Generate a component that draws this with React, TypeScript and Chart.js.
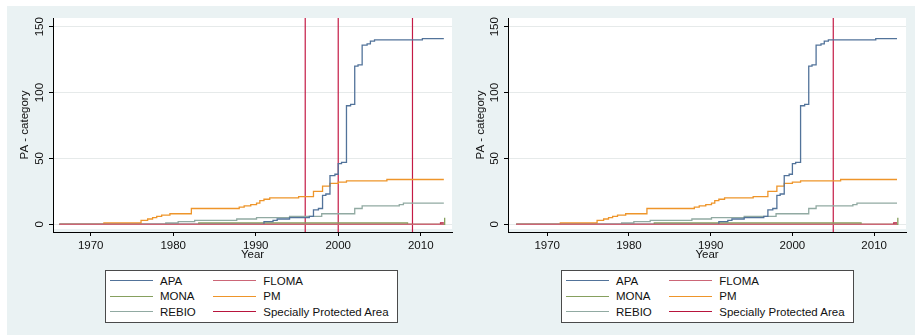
import React, { useEffect, useRef } from "react";
import { Chart, registerables } from "chart.js";

Chart.register(...registerables);

// ---------------- data ----------------
const seriesNames = ["APA", "FLOMA", "MONA", "PM", "REBIO", "Specially Protected Area"];

const apaYears = [1966.2, 1991.0, 1992.1, 1992.6, 1994.1, 1996.5, 1997.0, 1997.6, 1998.1, 1998.5, 1999.0, 1999.6, 2000.0, 2000.4, 2001.0, 2001.5, 2002.0, 2002.4, 2002.9, 2003.5, 2003.9, 2004.4, 2010.2, 2012.8];
const apaValues = [0, 2, 3, 4, 5, 6, 11, 12, 22, 23, 37, 38, 46, 47, 90, 91, 120, 121, 136, 137, 139, 140, 141, 141];

const flomaYears = [1966.2, 2012.8];
const flomaValues = [0, 0];

const monaYears = [1966.2, 1983.1, 2008.4, 2012.9];
const monaValues = [0, 1, 0, 5];

const pmYears = [1966.2, 1971.6, 1976.1, 1976.9, 1977.5, 1978.0, 1978.6, 1979.6, 1982.2, 1988.0, 1988.6, 1989.4, 1990.1, 1990.5, 1991.0, 1991.7, 1995.2, 1997.0, 1998.1, 1999.0, 2000.0, 2001.0, 2005.9, 2012.8];
const pmValues = [0, 1, 3, 4, 5, 6, 7, 8, 12, 13, 14, 15, 16, 18, 19, 20, 21, 25, 29, 31, 32, 33, 34, 34];

const rebioYears = [1966.2, 1979.1, 1980.6, 1982.6, 1987.7, 1990.1, 1994.1, 1998.0, 2002.0, 2002.9, 2007.4, 2007.9, 2012.8];
const rebioValues = [0, 1, 2, 3, 4, 5, 6, 8, 12, 14, 15, 16, 16];

const spaYears = [1966.2, 2012.4, 2012.8];
const spaValues = [0, 1, 1];

const leftXLines = [1996, 2000, 2009];
const rightXLines = [2005];

const xTickValues = [1970, 1980, 1990, 2000, 2010];
const yTickValues = [0, 50, 100, 150];

const yAxisMin = -5.85;
const yAxisMax = 156.6;

// ---------------- styles ----------------
const seriesColors = ["#52739a", "#cc6677", "#86a05e", "#ee952a", "#91aaa2", "#b8143c"];
const seriesOrder = [1, 0, 3, 2, 4, 6]; // lower order = drawn on top
const xLineColor = "#c41a45";
const FONT = "'Liberation Sans', Arial, sans-serif";
const TEXT = "#111";
const BG = "#eaf2f3";

const seriesYears = [apaYears, flomaYears, monaYears, pmYears, rebioYears, spaYears];
const seriesValues = [apaValues, flomaValues, monaValues, pmValues, rebioValues, spaValues];

const plotBg = {
  id: "plotBg",
  beforeDraw(chart: any) {
    const { ctx, chartArea } = chart;
    ctx.save();
    ctx.fillStyle = "#ffffff";
    ctx.fillRect(chartArea.left, chartArea.top, chartArea.right - chartArea.left, chartArea.bottom - chartArea.top - 3);
    ctx.restore();
  },
};

type PanelProps = {
  offsetX: number;
  width: number;
  yWidth: number;
  padRight: number;
  xMin: number;
  xMax: number;
  xlines: number[];
};

function Panel(p: PanelProps) {
  const ref = useRef<HTMLCanvasElement | null>(null);

  useEffect(() => {
    if (!ref.current) return;
    const datasets: any[] = seriesNames.map((name, i) => ({
      label: name,
      data: seriesYears[i].map((x, j) => ({ x, y: seriesValues[i][j] })),
      borderColor: seriesColors[i],
      backgroundColor: seriesColors[i],
      borderWidth: 1.3,
      pointRadius: 0,
      stepped: true,
      fill: false,
      order: seriesOrder[i],
    }));
    p.xlines.forEach((xv) => {
      datasets.push({
        label: "xline",
        data: [
          { x: xv, y: yAxisMin },
          { x: xv, y: yAxisMax },
        ],
        borderColor: xLineColor,
        borderWidth: 1.2,
        pointRadius: 0,
        fill: false,
        order: 10,
      });
    });

    const chart = new Chart(ref.current, {
      type: "line",
      data: { datasets },
      plugins: [plotBg],
      options: {
        animation: false,
        responsive: false,
        maintainAspectRatio: false,
        events: [],
        layout: { padding: { left: 0, top: 18, right: p.padRight, bottom: 73 } },
        plugins: { legend: { display: false }, tooltip: { enabled: false } },
        scales: {
          x: {
            type: "linear",
            min: p.xMin,
            max: p.xMax,
            afterBuildTicks: (s: any) => {
              s.ticks = xTickValues.map((v) => ({ value: v }));
            },
            afterFit: (s: any) => {
              s.height = 30;
            },
            ticks: {
              color: TEXT,
              font: { family: FONT, size: 11.5 },
              padding: 3,
              maxRotation: 0,
              minRotation: 0,
              autoSkip: false,
              callback: (v: any) => String(v),
            },
            grid: { drawOnChartArea: false, drawTicks: true, tickLength: 4, tickColor: "#000" },
            border: { display: true, color: "#000", width: 1 },
            title: {
              display: true,
              text: "Year",
              color: TEXT,
              font: { family: FONT, size: 11.5 },
              padding: { top: 0, bottom: 0 },
            },
          },
          y: {
            type: "linear",
            min: yAxisMin,
            max: yAxisMax,
            afterBuildTicks: (s: any) => {
              s.ticks = yTickValues.map((v) => ({ value: v }));
            },
            afterFit: (s: any) => {
              s.width = p.yWidth;
            },
            ticks: {
              color: TEXT,
              font: { family: FONT, size: 11.5 },
              padding: 0,
              minRotation: 90,
              maxRotation: 90,
              crossAlign: "center",
              autoSkip: false,
              callback: (v: any) => String(v),
            },
            grid: { color: "#e6eaea", lineWidth: 1, drawTicks: true, tickLength: 4, tickColor: "#000" },
            border: { display: true, color: "#000", width: 1 },
            title: {
              display: true,
              text: "PA - category",
              color: TEXT,
              font: { family: FONT, size: 11.5 },
              padding: { top: 18, bottom: 0 },
            },
          },
        },
      } as any,
    });
    return () => chart.destroy();
  }, []);

  const rows = [
    [0, 1],
    [2, 3],
    [4, 5],
  ];
  const rowCenters = [280.7, 296.2, 311.8];
  const colLine = [110, 213.3];
  const colText = [160, 263.3];

  return (
    <div style={{ position: "absolute", left: p.offsetX, top: 0, width: p.width, height: 335 }}>
      <canvas ref={ref} width={p.width} height={335} style={{ display: "block", position: "absolute", left: 0, top: 0 }} />
      <div
        style={{
          position: "absolute",
          left: 105,
          top: 270,
          width: 293,
          height: 53,
          boxSizing: "border-box",
          border: "1px solid #4a4a4a",
          background: "#ffffff",
        }}
      />
      {rows.map((r, ri) =>
        r.map((si, ci) => (
          <React.Fragment key={"item" + si}>
            <div
              style={{
                position: "absolute",
                left: colLine[ci],
                top: rowCenters[ri] - 0.7,
                width: 43,
                height: 1.4,
                background: seriesColors[si],
              }}
            />
            <div
              style={{
                position: "absolute",
                left: colText[ci],
                top: rowCenters[ri] - 7,
                height: 14,
                lineHeight: "14px",
                fontFamily: FONT,
                fontSize: 11.5,
                color: TEXT,
                whiteSpace: "nowrap",
              }}
            >
              {seriesNames[si]}
            </div>
          </React.Fragment>
        ))
      )}
    </div>
  );
}

export default function App() {
  return (
    <div style={{ position: "absolute", left: 0, top: 0, width: 915, height: 335, background: "#ffffff", overflow: "hidden" }}>
      <div style={{ position: "absolute", left: 7, top: 6, width: 908, height: 329, background: BG }} />
      <Panel offsetX={0} width={456} yWidth={53} padRight={4} xMin={1965.43} xMax={2013.79} xlines={leftXLines} />
      <Panel offsetX={456} width={459} yWidth={52} padRight={9} xMin={1965.2} xMax={2013.9} xlines={rightXLines} />
    </div>
  );
}
